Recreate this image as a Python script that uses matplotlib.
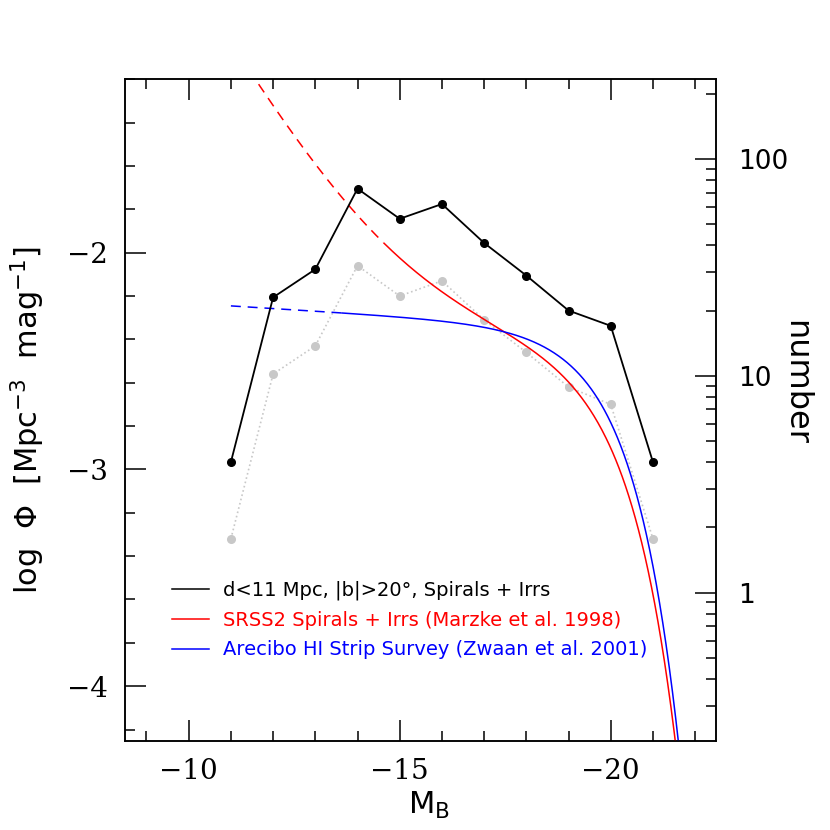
import matplotlib
matplotlib.use('Agg')
import matplotlib.pyplot as plt
import numpy as np
from matplotlib.lines import Line2D
from matplotlib.ticker import MultipleLocator, LogLocator, FuncFormatter, NullFormatter

# --- data ---
mag_bins = [-11, -12, -13, -14, -15, -16, -17, -18, -19, -20, -21]
n_gal = [4, 23, 31, 73, 53, 62, 41, 29, 20, 17, 4]
logphi_grey = [-3.32, -2.56, -2.43, -2.06, -2.20, -2.13, -2.31, -2.46, -2.62, -2.70, -3.32]

# Schechter parameters (phi*, M*, alpha), h = 0.75
ssrs2_spirals = (3.375e-3, -20.05, -1.11)
ssrs2_irrs = (8.4e-5, -20.40, -1.81)
ssrs2_limit = -14.625
ahiss = (4.81e-3, -20.01, -1.03)
ahiss_limit = -13.625

# log of the volume: number = phi * V
log_volume = 3.568

legend_labels = ['d<11 Mpc, |b|>20°, Spirals + Irrs',
                 'SRSS2 Spirals + Irrs (Marzke et al. 1998)',
                 'Arecibo HI Strip Survey (Zwaan et al. 2001)']
legend_colors = ['black', 'red', 'blue']


def schechter(M, pars):
    phi_star, m_star, alpha = pars
    x = 10 ** (0.4 * (m_star - M))
    return 0.4 * np.log(10) * phi_star * x ** (alpha + 1) * np.exp(-x)


fig = plt.figure(figsize=(8.3, 8.3), dpi=100)
fig.subplots_adjust(left=0.1502, right=0.8627, bottom=0.1072, top=0.9045)
ax = fig.add_subplot(111)

xlim = (-8.483, -22.495)
ylim = (-4.253, -1.200)
ax.set_xlim(*xlim)
ax.set_ylim(*ylim)

# grey points
ax.plot(mag_bins, logphi_grey, color='#c8c8c8', ls=':', lw=1.2, marker='o',
        ms=5.5, mec='#c8c8c8', zorder=2)

# model curves, dashed where extrapolated
M = np.linspace(-11, -22.5, 600)
red = np.log10(schechter(M, ssrs2_spirals) + schechter(M, ssrs2_irrs))
blue = np.log10(schechter(M, ahiss))

for curve, lim, col in [(red, ssrs2_limit, 'red'), (blue, ahiss_limit, 'blue')]:
    faint = M >= lim
    bright = M <= lim
    ax.plot(M[faint], curve[faint], color=col, lw=1.1, dashes=(6.5, 4.5), zorder=3)
    ax.plot(M[bright], curve[bright], color=col, lw=1.1, zorder=3)

# black counts on the number axis
ax2 = ax.twinx()
ax2.set_yscale('log')
ax2.set_ylim(10 ** (ylim[0] + log_volume), 10 ** (ylim[1] + log_volume))
ax2.plot(mag_bins, n_gal, color='black', lw=1.3, marker='o', ms=5.5, zorder=5)

# ticks
ax.xaxis.set_major_locator(MultipleLocator(5))
ax.xaxis.set_minor_locator(MultipleLocator(1))
ax.yaxis.set_major_locator(MultipleLocator(1))
ax.yaxis.set_minor_locator(MultipleLocator(0.2))
ax.tick_params(which='both', direction='in', top=True, right=False, width=1.1)
ax.tick_params(which='major', length=15, pad=12)
ax.tick_params(which='minor', length=7.5)
for lab in ax.get_xticklabels() + ax.get_yticklabels():
    lab.set_family('DejaVu Serif')
    lab.set_fontsize(20)

ax2.yaxis.set_major_locator(LogLocator(base=10))
ax2.yaxis.set_minor_locator(LogLocator(base=10, subs=np.arange(2, 10)))
ax2.yaxis.set_major_formatter(FuncFormatter(lambda v, p: f'{v:g}'))
ax2.yaxis.set_minor_formatter(NullFormatter())
ax2.tick_params(which='both', direction='in', width=1.1, labelsize=19, pad=16)
ax2.tick_params(which='major', length=15)
ax2.tick_params(which='minor', length=7.5)

for a in (ax, ax2):
    for s in a.spines.values():
        s.set_linewidth(1.1)

# labels
ax.set_xlabel('M$_\\mathregular{B}$', fontsize=22, va='center', ha='center')
ax.xaxis.set_label_coords(0.515, -0.097)
ax.set_ylabel('log  Φ  [Mpc$^{\\mathregular{-3}}$  mag$^{\\mathregular{-1}}$]', fontsize=22,
              va='center', ha='center')
ax.yaxis.set_label_coords(-0.1635, 0.485)
ax2.set_ylabel('number', fontsize=23, rotation=270, va='center', ha='center')
ax2.yaxis.set_label_coords(1.135, 0.542)

handles = [Line2D([], [], color=c, lw=1.1) for c in legend_colors]
ax2.legend(handles, legend_labels, loc='center left', bbox_to_anchor=(0.0805, 0.183),
           frameon=False, fontsize=14, handlelength=1.9, handletextpad=0.7,
           labelspacing=0.55, borderpad=0, borderaxespad=0, labelcolor=legend_colors)

fig.savefig('out.png', dpi=100)
